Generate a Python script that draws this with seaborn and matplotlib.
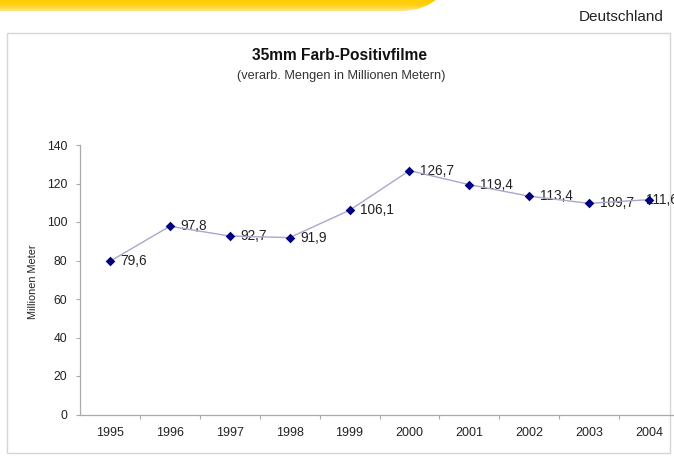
import matplotlib
matplotlib.use("Agg")
import matplotlib.pyplot as plt
from matplotlib.patches import Rectangle, Polygon
import numpy as np
import pandas as pd
import seaborn as sns

years = [1995, 1996, 1997, 1998, 1999, 2000, 2001, 2002, 2003, 2004]
values = [79.6, 97.8, 92.7, 91.9, 106.1, 126.7, 119.4, 113.4, 109.7, 111.6]
y_ticks = [0, 20, 40, 60, 80, 100, 120, 140]

title = "35mm Farb-Positivfilme"
subtitle = "(verarb. Mengen in Millionen Metern)"
y_label = "Millionen Meter"
region = "Deutschland"

df = pd.DataFrame({"Jahr": years, "Wert": values})

sns.set_theme(style="white")
plt.rcParams["font.family"] = ["Liberation Sans", "DejaVu Sans"]

W, H = 674, 457
fig = plt.figure(figsize=(W / 100, H / 100), dpi=100)
fig.patch.set_facecolor("white")

# yellow header band with slanted right end
band = fig.add_axes([0, 0, 1, 1], zorder=0)
band.set_xlim(0, W)
band.set_ylim(H, 0)
band.axis("off")
grad = np.linspace(0, 1, 64).reshape(-1, 1)
cmap = matplotlib.colors.LinearSegmentedColormap.from_list(
    "band", ["#FFCC00", "#FFD21A", "#FFE58A"])
img = band.imshow(grad, extent=(0, 440, 11, 0), cmap=cmap, aspect="auto")
clip = Polygon([(0, 0), (436, 0), (428, 5), (418, 9), (405, 11), (0, 11)],
               closed=True, transform=band.transData)
img.set_clip_path(clip)

# chart frame and texts
band.add_patch(Rectangle((7, 33), 663, 420, fill=False, edgecolor="#D6D6D6", lw=1.0))
band.text(664, 17, region, ha="right", va="center", fontsize=11, color="#222222")
band.text(340, 55, title, ha="center", va="center", fontsize=11.2, fontweight="bold", color="#111111")
band.text(341, 76, subtitle, ha="center", va="center", fontsize=9.2, color="#333333")
band.text(33, 282, y_label, ha="center", va="center", rotation=90, fontsize=7.8, color="#222222")

left, right, top, bottom = 80, 679, 145, 414.5
ax = fig.add_axes([left / W, (H - bottom) / H, (right - left) / W, (bottom - top) / H], zorder=1)
ax.set_facecolor("none")

sns.lineplot(data=df, x="Jahr", y="Wert", ax=ax, color="#A8A8CC", lw=1.0, zorder=2)
sns.scatterplot(data=df, x="Jahr", y="Wert", ax=ax, marker="D", s=24, color="#000080",
                edgecolor="#000080", linewidth=0, zorder=3)

# value labels right of each marker; the last one starts beneath its marker
for i, (x, v) in enumerate(zip(years, values)):
    dx = -2.5 if i == len(years) - 1 else 7.5
    ax.annotate(f"{v:.1f}".replace(".", ","), (x, v), xytext=(dx, 0), textcoords="offset points",
                ha="left", va="center", fontsize=9.8, color="#222222", annotation_clip=False,
                zorder=1)

ax.set_xlim(years[0] - 0.5, years[-1] + 0.5)
ax.set_ylim(0, 140)
ax.set_yticks(y_ticks)
ax.set_xticks(years)
ax.set_xticklabels([str(y) for y in years])
ax.set_xticks([y + 0.5 for y in years[:-1]], minor=True)
ax.set_xlabel("")
ax.set_ylabel("")

for side in ["top", "right"]:
    ax.spines[side].set_visible(False)
for side in ["left", "bottom"]:
    ax.spines[side].set_color("#AAAAAA")
    ax.spines[side].set_linewidth(0.9)

ax.tick_params(axis="y", which="major", direction="out", length=3, width=0.8, color="#AAAAAA",
               labelsize=8.8, labelcolor="#222222", pad=6, left=True)
ax.tick_params(axis="x", which="major", length=0, labelsize=9, labelcolor="#222222", pad=9)
ax.tick_params(axis="x", which="minor", direction="out", length=3, width=0.8, color="#AAAAAA", bottom=True)

fig.savefig("out.png", dpi=100)
